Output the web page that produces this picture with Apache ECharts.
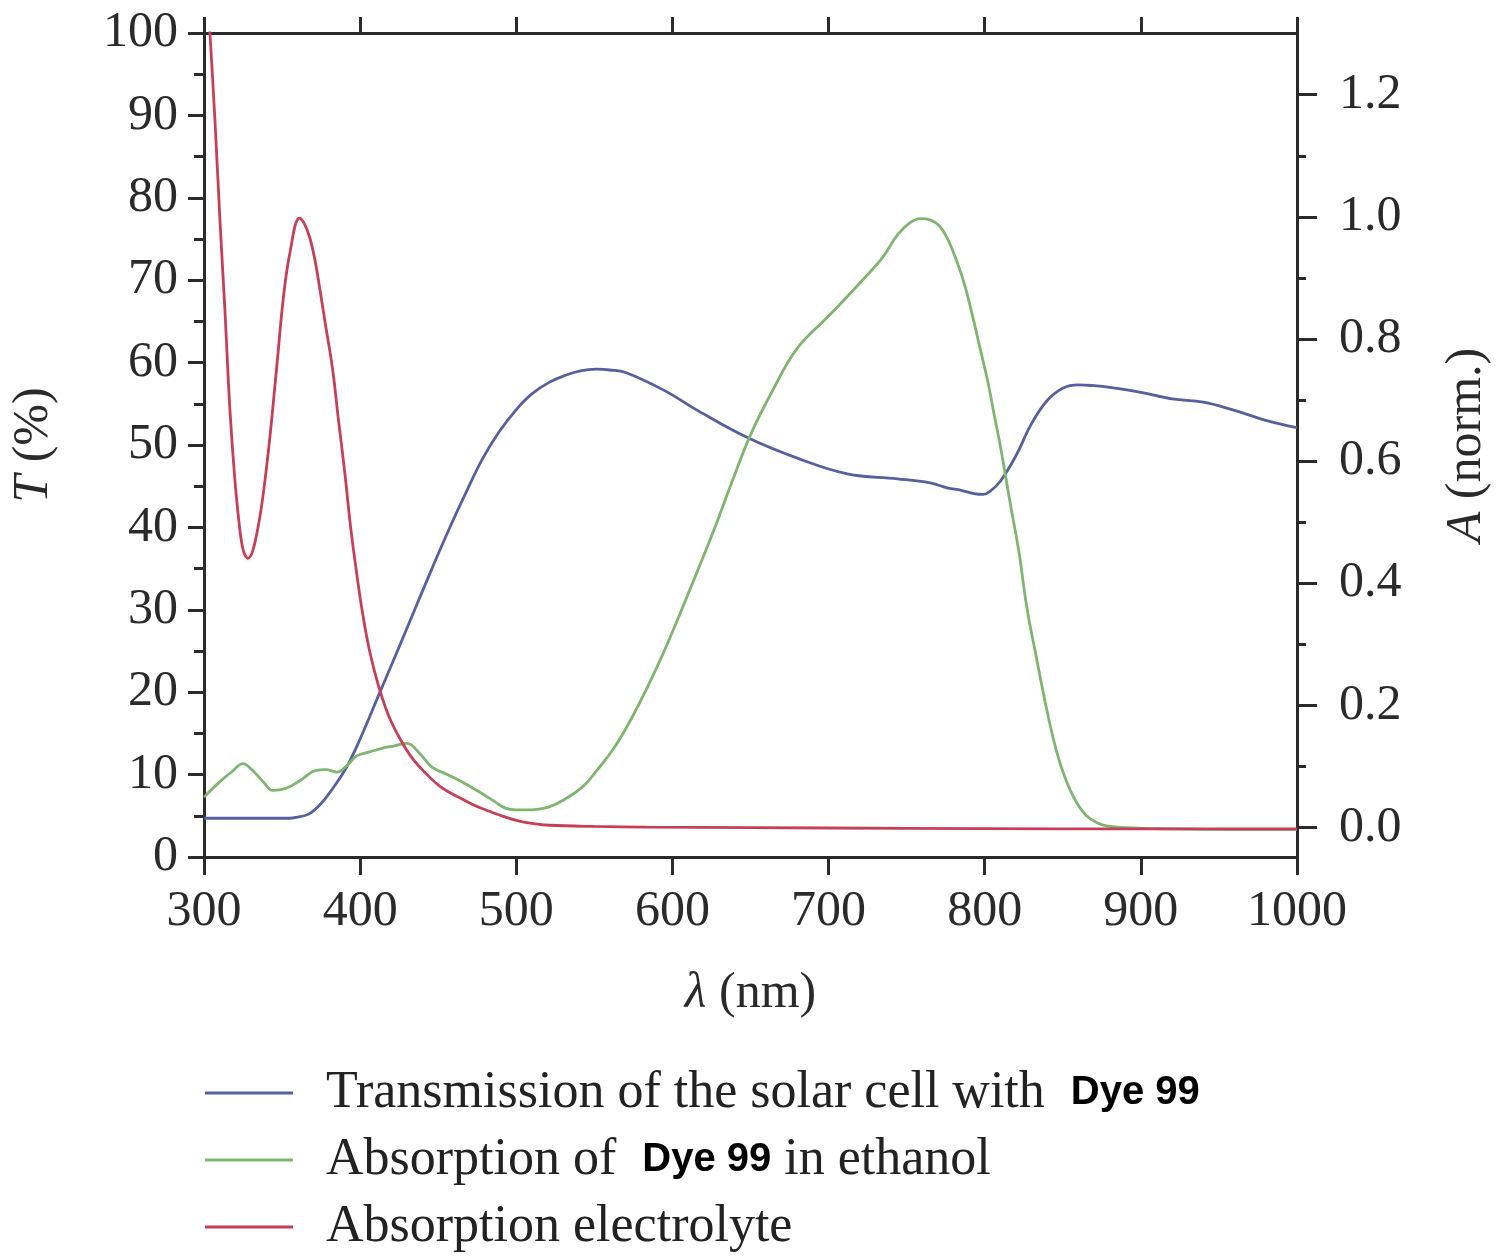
<!DOCTYPE html>
<html>
<head>
<meta charset="utf-8">
<script src="https://cdn.jsdelivr.net/npm/echarts@6/dist/echarts.min.js"></script>
<style>
html,body{margin:0;padding:0;background:#fff;}
#chart{width:1500px;height:1260px;}
</style>
</head>
<body>
<div id="chart"></div>
<script>
// ---- Data ----
// Transmission of the solar cell (T, %), left axis
const lamT = [300,355,359,367,375,382,391,399,412,425,436,446,457,468,478,489,500,510,521,532,541,551,560,570,595,616,648,680,712,744,765,776,785,793,799,803,810,820,830,840,850,860,870,880,900,920,940,960,980,1000];
const valT = [4.7,4.7,4.8,5.2,6.5,8.2,10.8,13.9,19.7,25.5,30.5,35,39.8,44.3,48.2,51.6,54.3,56.2,57.6,58.5,59.0,59.2,59.1,58.8,56.6,54.2,50.9,48.4,46.5,45.9,45.4,44.8,44.5,44.1,44.0,44.3,45.6,48.7,52.6,55.4,56.9,57.3,57.2,57,56.4,55.6,55.2,54.2,53,52.1];

// Absorption of Dye 99 in ethanol (A, norm.), right axis
const lamG = [300,310,318,325,331,338,344,353,362,372,378,385,392,398,406,414,422,430,438,446,455,463,470,478,486,493,500,506,513,521,530,542,552,563,574,584,594,604,616,627,638,650,663,680,701,723,735,744,752,759,765,771,776,781,787,792,797,802,806,810,816,822,827,833,840,846,852,858,865,872,878,890,920,960,1000];
const valG = [0.05,0.075,0.092,0.105,0.094,0.075,0.061,0.065,0.078,0.094,0.095,0.091,0.103,0.118,0.124,0.13,0.134,0.138,0.122,0.099,0.088,0.078,0.068,0.056,0.043,0.032,0.029,0.029,0.03,0.034,0.045,0.066,0.095,0.132,0.18,0.23,0.285,0.345,0.42,0.49,0.565,0.643,0.71,0.785,0.84,0.9,0.935,0.97,0.99,0.997,0.995,0.985,0.965,0.935,0.89,0.84,0.785,0.73,0.677,0.625,0.536,0.45,0.36,0.28,0.19,0.125,0.078,0.045,0.02,0.008,0.003,0.0,-0.002,-0.003,-0.003];

// Absorption electrolyte (A, norm.), right axis
const lamR = [300,303.8,307,310.2,313.4,316.6,319.8,323,325.5,328.1,333.8,340,346.5,350.6,354.8,361.2,364,367.6,371,374,378,382.3,386,390,394,397.6,401,406,412,418,425,433,442,452,463,472,480.5,490,500,510,521,550,584,650,750,850,1000];
const valR = [1.47,1.301,1.159,0.995,0.847,0.684,0.569,0.487,0.451,0.441,0.481,0.589,0.752,0.862,0.938,0.998,0.99,0.967,0.93,0.885,0.82,0.752,0.67,0.585,0.49,0.42,0.36,0.29,0.23,0.185,0.148,0.115,0.089,0.066,0.05,0.038,0.029,0.02,0.012,0.007,0.004,0.002,0.001,0.0,-0.001,-0.002,-0.002];

const seriesNames = ['Transmission of the solar cell with Dye 99','Absorption of Dye 99 in ethanol','Absorption electrolyte'];
const rightMajor = [0,0.2,0.4,0.6,0.8,1.0,1.2];
const rightMinor = [0.1,0.3,0.5,0.7,0.9,1.1];

const zip = (a,b)=>a.map((v,i)=>[v,b[i]]);

const SERIF = '"Liberation Serif", "Times New Roman", serif';
const AX = '#2b2b2b';
const labelStyle = {fontFamily: SERIF, fontSize: 50, color: '#2a2a2a'};
const nameRich = {i: {fontFamily: SERIF, fontSize: 50, fontStyle: 'italic', color: '#2a2a2a'}};

const chart = echarts.init(document.getElementById('chart'), null, {renderer:'canvas'});
const option = {
  backgroundColor: '#ffffff',
  animation: false,
  grid: {left: 204, right: 198, top: 33, bottom: 403, containLabel: false},
  xAxis: [{
    type: 'value', min: 300, max: 1000, interval: 100, position: 'bottom',
    name: '{i|λ} (nm)', nameLocation: 'middle', nameGap: 112,
    nameTextStyle: {fontFamily: SERIF, fontSize: 50, color: '#2a2a2a', rich: nameRich},
    axisLine: {show: true, onZero: false, lineStyle: {color: AX, width: 3}},
    axisTick: {show: true, inside: false, length: 18, lineStyle: {color: AX, width: 3}},
    axisLabel: {show: true, margin: 30, formatter: v => String(v), ...labelStyle},
    splitLine: {show: false}
  },{
    type: 'value', min: 300, max: 1000, interval: 100, position: 'top',
    axisLine: {show: true, onZero: false, lineStyle: {color: AX, width: 3}},
    axisTick: {show: true, inside: false, length: 16, lineStyle: {color: AX, width: 3}},
    axisLabel: {show: false},
    splitLine: {show: false}
  }],
  yAxis: [{
    type: 'value', min: 0, max: 100, interval: 10, position: 'left',
    name: '{i|T} (%)', nameLocation: 'middle', nameGap: 145, nameRotate: 90,
    nameTextStyle: {fontFamily: SERIF, fontSize: 50, color: '#2a2a2a', rich: nameRich},
    axisLine: {show: true, onZero: false, lineStyle: {color: AX, width: 3}},
    axisTick: {show: true, inside: false, length: 16, lineStyle: {color: AX, width: 3}},
    minorTick: {show: true, splitNumber: 2, length: 10, lineStyle: {color: AX, width: 3}},
    axisLabel: {show: true, margin: 26, ...labelStyle},
    splitLine: {show: false}, minorSplitLine: {show: false}
  },{
    type: 'value', min: -0.048, max: 1.301, position: 'right',
    name: '{i|A} (norm.)', nameLocation: 'middle', nameGap: 145, nameRotate: 90,
    nameTextStyle: {fontFamily: SERIF, fontSize: 50, color: '#2a2a2a', rich: nameRich},
    axisLine: {show: true, onZero: false, lineStyle: {color: AX, width: 3}},
    axisTick: {show: true, inside: false, length: 20, customValues: rightMajor, lineStyle: {color: AX, width: 3}},
    axisLabel: {show: true, margin: 42, customValues: rightMajor, formatter: v => Number(v).toFixed(1), ...labelStyle},
    splitLine: {show: false}
  },{
    type: 'value', min: -0.048, max: 1.301, position: 'right',
    axisLine: {show: false},
    axisTick: {show: true, inside: false, length: 9, customValues: rightMinor, lineStyle: {color: AX, width: 3}},
    axisLabel: {show: false, customValues: rightMinor},
    splitLine: {show: false}
  }],
  legend: {
    orient: 'vertical', left: 205, top: 1066, itemGap: 13, padding: 0,
    icon: 'rect', itemWidth: 88, itemHeight: 3,
    data: seriesNames,
    formatter: n => n.replace(/ Dye 99/, '  {b|Dye 99}'),
    textStyle: {fontFamily: SERIF, fontSize: 52, lineHeight: 54, color: '#222', padding: [0,0,0,28],
      rich: {b: {fontFamily: '"Liberation Sans", Arial, sans-serif', fontWeight: 'bold', fontSize: 40, color: '#000'}}}
  },
  series: [{
    name: seriesNames[0], type: 'line', xAxisIndex: 0, yAxisIndex: 0,
    data: zip(lamT, valT), symbol: 'none', smooth: 0.4,
    lineStyle: {color: '#56609c', width: 2.8}, itemStyle: {color: '#56609c'}
  },{
    name: seriesNames[1], type: 'line', xAxisIndex: 0, yAxisIndex: 1,
    data: zip(lamG, valG), symbol: 'none', smooth: 0.4,
    lineStyle: {color: '#7fb571', width: 2.8}, itemStyle: {color: '#7fb571'}
  },{
    name: seriesNames[2], type: 'line', xAxisIndex: 0, yAxisIndex: 1,
    data: zip(lamR, valR), symbol: 'none', smooth: 0.4,
    lineStyle: {color: '#c63f59', width: 2.8}, itemStyle: {color: '#c63f59'}
  }]
};
chart.setOption(option);
</script>
</body>
</html>
